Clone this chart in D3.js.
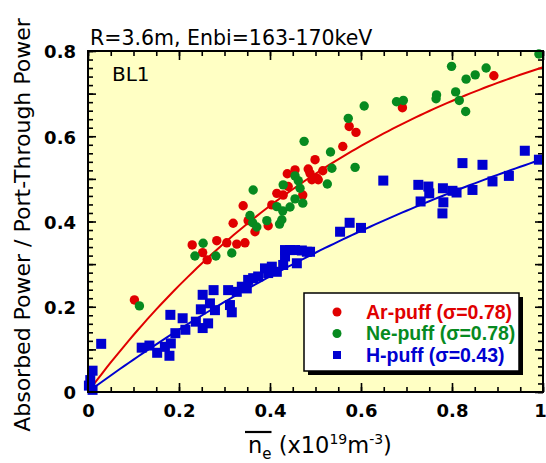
<!DOCTYPE html>
<html>
<head>
<meta charset="utf-8">
<script src="https://cdn.jsdelivr.net/npm/d3@7"></script>
<style>
  body { margin: 0; background: #fff; }
  svg { display: block; }
  text { font-family: "DejaVu Sans", sans-serif; }
</style>
</head>
<body>
<svg id="chart" width="546" height="463"></svg>
<script>
// Absorbed fraction of port-through NBI power vs line-averaged density
const arPuff = [
  [0.102, 0.216], [0.229, 0.345], [0.252, 0.327], [0.262, 0.310], [0.283, 0.355],
  [0.305, 0.350], [0.327, 0.347], [0.345, 0.350], [0.319, 0.396], [0.341, 0.437],
  [0.352, 0.402], [0.367, 0.376], [0.396, 0.390], [0.404, 0.439], [0.415, 0.466],
  [0.429, 0.462], [0.440, 0.482], [0.438, 0.512], [0.455, 0.521], [0.472, 0.462],
  [0.484, 0.523], [0.488, 0.513], [0.492, 0.498], [0.499, 0.545], [0.503, 0.502],
  [0.506, 0.498], [0.516, 0.519], [0.560, 0.576], [0.574, 0.623], [0.589, 0.609],
  [0.691, 0.667], [0.892, 0.742]
];
const nePuff = [
  [0.113, 0.202], [0.235, 0.319], [0.253, 0.349], [0.281, 0.319], [0.316, 0.326],
  [0.356, 0.414], [0.362, 0.397], [0.371, 0.387], [0.363, 0.474], [0.393, 0.402],
  [0.415, 0.435], [0.421, 0.394], [0.426, 0.404], [0.428, 0.425], [0.429, 0.486],
  [0.444, 0.434], [0.455, 0.453], [0.455, 0.507], [0.462, 0.496], [0.466, 0.478],
  [0.472, 0.443], [0.475, 0.588], [0.533, 0.563], [0.536, 0.525], [0.526, 0.488],
  [0.587, 0.527], [0.572, 0.642], [0.607, 0.671], [0.678, 0.681], [0.693, 0.684],
  [0.765, 0.688], [0.766, 0.697], [0.799, 0.764], [0.808, 0.704], [0.816, 0.684],
  [0.830, 0.658], [0.831, 0.734], [0.851, 0.744], [0.875, 0.760], [0.991, 0.793]
];
const hPuff = [
  [0.010, 0.050], [0.005, 0.028], [0.010, 0.005], [0.002, 0.015], [0.029, 0.113],
  [0.118, 0.104], [0.135, 0.109], [0.152, 0.092], [0.169, 0.106], [0.179, 0.085],
  [0.181, 0.181], [0.182, 0.114], [0.192, 0.138], [0.208, 0.173], [0.214, 0.146],
  [0.237, 0.165], [0.248, 0.194], [0.252, 0.228], [0.252, 0.150], [0.264, 0.161],
  [0.276, 0.239], [0.268, 0.208], [0.279, 0.192], [0.308, 0.239], [0.312, 0.204],
  [0.316, 0.187], [0.327, 0.235], [0.338, 0.247], [0.349, 0.243], [0.352, 0.263],
  [0.363, 0.267], [0.374, 0.271], [0.389, 0.290], [0.396, 0.279], [0.404, 0.294],
  [0.415, 0.282], [0.429, 0.298], [0.433, 0.333], [0.433, 0.318], [0.444, 0.333],
  [0.455, 0.333], [0.459, 0.302], [0.470, 0.332], [0.481, 0.329], [0.488, 0.329],
  [0.554, 0.376], [0.575, 0.397], [0.600, 0.385], [0.649, 0.496], [0.726, 0.486],
  [0.731, 0.447], [0.748, 0.482], [0.750, 0.466], [0.780, 0.478], [0.781, 0.445],
  [0.779, 0.419], [0.801, 0.472], [0.810, 0.468], [0.823, 0.537], [0.845, 0.474],
  [0.867, 0.533], [0.889, 0.494], [0.925, 0.507], [0.960, 0.566], [0.991, 0.545]
];

// Fitted cross-section factors (shown in the legend)
const sigmaAr = 0.78, sigmaNe = 0.78, sigmaH = 0.43;
const pathFactor = 1.84;   // effective path length factor in the fit 1 - exp(-k*sigma*n)

const xTickValues = [0, 0.2, 0.4, 0.6, 0.8, 1];
const xTickLabels = ["0", "0.2", "0.4", "0.6", "0.8", "1"];
const yTickValues = [0, 0.2, 0.4, 0.6, 0.8];
const yTickLabels = ["0", "0.2", "0.4", "0.6", "0.8"];

const legendItems = [
  { label: "Ar-puff (σ=" + sigmaAr.toFixed(2) + ")", color: "#e00000", shape: "circle" },
  { label: "Ne-puff (σ=" + sigmaNe.toFixed(2) + ")", color: "#078a1f", shape: "circle" },
  { label: "H-puff (σ=" + sigmaH.toFixed(2) + ")",  color: "#0000d0", shape: "square" }
];

const colAr = "#e00000", colNe = "#078a1f", colH = "#0000d0";

const svg = d3.select("#chart");
const plotL = 88, plotR = 543, plotT = 51, plotB = 392;

const x = d3.scaleLinear().domain([0, 1]).range([plotL, plotR]);
const y = d3.scaleLinear().domain([0, 0.8]).range([plotB, plotT]);

// plot background
svg.append("rect")
  .attr("x", plotL).attr("y", plotT)
  .attr("width", plotR - plotL).attr("height", plotB - plotT)
  .attr("fill", "#ffffc4");

// inward ticks on all four sides
const xMinor = d3.range(0, 1.0001, 0.05);
const yMinor = d3.range(0, 0.8001, 0.02);
const yMajor = d3.range(0, 0.8001, 0.1);

function styleAxis(g) {
  g.select(".domain").remove();
  g.selectAll(".tick line").attr("stroke", "#000").attr("stroke-width", 1.6);
}

svg.append("g").attr("transform", `translate(0,${plotB})`)
  .call(d3.axisBottom(x).tickValues(xMinor).tickSize(-5).tickFormat(""))
  .call(styleAxis);
svg.append("g").attr("transform", `translate(0,${plotT})`)
  .call(d3.axisTop(x).tickValues(xMinor).tickSize(-5).tickFormat(""))
  .call(styleAxis);
svg.append("g").attr("transform", `translate(0,${plotT})`)
  .call(d3.axisTop(x).tickValues(xTickValues).tickSize(-9).tickFormat(""))
  .call(styleAxis);

const xAxis = svg.append("g").attr("transform", `translate(0,${plotB})`)
  .call(d3.axisBottom(x).tickValues(xTickValues).tickSize(-9).tickPadding(12)
    .tickFormat((d, i) => xTickLabels[i]))
  .call(styleAxis);

svg.append("g").attr("transform", `translate(${plotL},0)`)
  .call(d3.axisLeft(y).tickValues(yMinor).tickSize(-5).tickFormat(""))
  .call(styleAxis);
svg.append("g").attr("transform", `translate(${plotR},0)`)
  .call(d3.axisRight(y).tickValues(yMinor).tickSize(-5).tickFormat(""))
  .call(styleAxis);
svg.append("g").attr("transform", `translate(${plotR},0)`)
  .call(d3.axisRight(y).tickValues(yMajor).tickSize(-8).tickFormat(""))
  .call(styleAxis);
svg.append("g").attr("transform", `translate(${plotL},0)`)
  .call(d3.axisLeft(y).tickValues(yMajor).tickSize(-8).tickFormat(""))
  .call(styleAxis);

const yAxis = svg.append("g").attr("transform", `translate(${plotL},0)`)
  .call(d3.axisLeft(y).tickValues(yTickValues).tickSize(0).tickPadding(12)
    .tickFormat((d, i) => yTickLabels[i]))
  .call(styleAxis);

[xAxis, yAxis].forEach(g => g.selectAll(".tick text")
  .attr("fill", "#000")
  .style("font-family", '"DejaVu Sans", sans-serif')
  .style("font-size", "18px")
  .style("font-weight", "bold"));
yAxis.selectAll(".tick text").attr("dy", "0.38em");
// keep the last x label inside the canvas
xAxis.selectAll(".tick text").filter(d => d === 1).attr("dx", -3);

// fit curves
const fitX = d3.range(0, 1.0001, 0.01);
const line = d3.line().x(d => x(d[0])).y(d => y(d[1]));
function fitCurve(sigma) {
  return fitX.map(n => [n, 1 - Math.exp(-pathFactor * sigma * n)]);
}
svg.append("path").datum(fitCurve(sigmaH))
  .attr("d", line).attr("fill", "none").attr("stroke", colH).attr("stroke-width", 2);
svg.append("path").datum(fitCurve(sigmaAr))
  .attr("d", line).attr("fill", "none").attr("stroke", colAr).attr("stroke-width", 2);

// data points
const sq = 10;
svg.append("g").selectAll("rect").data(hPuff).join("rect")
  .attr("x", d => x(d[0]) - sq / 2).attr("y", d => y(d[1]) - sq / 2)
  .attr("width", sq).attr("height", sq).attr("fill", colH);
svg.append("g").selectAll("circle").data(arPuff).join("circle")
  .attr("cx", d => x(d[0])).attr("cy", d => y(d[1])).attr("r", 4.7).attr("fill", colAr);
svg.append("g").selectAll("circle").data(nePuff).join("circle")
  .attr("cx", d => x(d[0])).attr("cy", d => y(d[1])).attr("r", 4.7).attr("fill", colNe);

// frame
svg.append("rect")
  .attr("x", plotL).attr("y", plotT)
  .attr("width", plotR - plotL).attr("height", plotB - plotT)
  .attr("fill", "none").attr("stroke", "#000").attr("stroke-width", 2);

// title and panel label
svg.append("text").attr("x", 90).attr("y", 45)
  .style("font-size", "20.5px").text("R=3.6m, Enbi=163-170keV");
svg.append("text").attr("x", 112).attr("y", 81)
  .style("font-size", "20px").text("BL1");

// y axis title
svg.append("text")
  .attr("transform", "translate(30,225) rotate(-90)")
  .attr("text-anchor", "middle")
  .style("font-size", "22px")
  .text("Absorbed Power / Port-Through Power");

// x axis title: overlined n_e (x10^19 m^-3)
const xt = svg.append("text").attr("x", 248).attr("y", 453).style("font-size", "22.5px");
const tn = xt.append("tspan").text("n");
const te = xt.append("tspan").attr("dy", 6).style("font-size", "15px").text("e");
xt.append("tspan").attr("dy", -6).text(" (x10");
xt.append("tspan").attr("dy", -9).style("font-size", "14px").text("19");
xt.append("tspan").attr("dy", 9).text("m");
xt.append("tspan").attr("dy", -9).style("font-size", "14px").text("-3");
xt.append("tspan").attr("dy", 9).text(")");
const nW = tn.node().getComputedTextLength();
const eW = te.node().getComputedTextLength();
svg.append("line")
  .attr("x1", 245).attr("x2", 248 + nW + eW)
  .attr("y1", 432).attr("y2", 432)
  .attr("stroke", "#000").attr("stroke-width", 2.2);

// legend
const lg = { x: 304, y: 293, w: 215, h: 78 };
svg.append("rect").attr("x", lg.x + 4).attr("y", lg.y + 4)
  .attr("width", lg.w).attr("height", lg.h).attr("fill", "#000");
svg.append("rect").attr("x", lg.x).attr("y", lg.y)
  .attr("width", lg.w).attr("height", lg.h)
  .attr("fill", "#fff").attr("stroke", "#000").attr("stroke-width", 1.5);
const rows = svg.append("g").selectAll("g").data(legendItems).join("g")
  .attr("transform", (d, i) => `translate(0,${312 + i * 21.5})`);
rows.filter(d => d.shape === "circle").append("circle")
  .attr("cx", 337).attr("cy", 0).attr("r", 4.5).attr("fill", d => d.color);
rows.filter(d => d.shape === "square").append("rect")
  .attr("x", 333).attr("y", -4).attr("width", 8).attr("height", 8).attr("fill", d => d.color);
rows.append("text").attr("x", 366).attr("y", 6.5)
  .attr("fill", d => d.color)
  .style("font-family", '"Liberation Sans", Arial, sans-serif')
  .style("font-size", "19.5px").style("font-weight", "bold")
  .text(d => d.label);
</script>
</body>
</html>
